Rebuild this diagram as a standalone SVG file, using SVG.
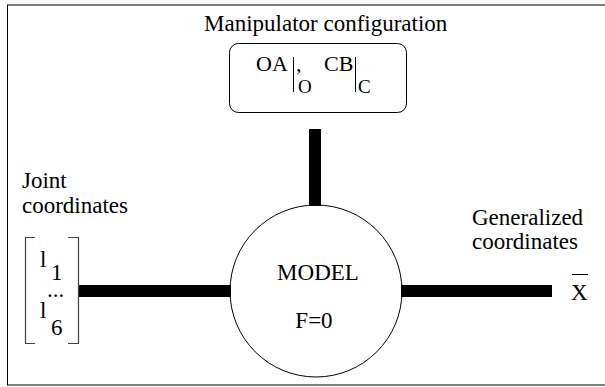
<svg xmlns="http://www.w3.org/2000/svg" width="605" height="387" viewBox="0 0 605 387">
<style>
text{font-family:"Liberation Serif","Times New Roman",serif;fill:#000}
.t{font-size:23px}
.m{font-size:22px}
.s{font-size:19px}
.thin{stroke:#000;stroke-width:1;fill:none}
.bar{fill:#000}
.br{stroke:#444;stroke-width:1.2;fill:none}
</style>
<rect x="7.5" y="5" width="620" height="380" fill="#fff" stroke="#000" stroke-width="1"/>
<g id="connectors">
<rect class="bar" x="309" y="129" width="12" height="77"/>
<rect class="bar" x="79" y="285" width="152" height="12"/>
<rect class="bar" x="401" y="285" width="151" height="12"/>
</g>
<g id="manipulator" font-family="Liberation Serif, serif">
<text class="t" x="204" y="31">Manipulator configuration</text>
<rect x="229.5" y="43.5" width="177" height="69" rx="9" class="thin"/>
<text class="m" x="256" y="71">OA</text>
<line x1="293.5" y1="57" x2="293.5" y2="92" class="thin"/>
<text class="m" x="296" y="71">,</text>
<text class="m" x="324" y="71">CB</text>
<line x1="355.5" y1="57" x2="355.5" y2="92" class="thin"/>
<text class="s" x="298" y="93">O</text>
<text class="s" x="358" y="93">C</text>
</g>
<g id="joint" font-family="Liberation Serif, serif">
<text class="t" x="22" y="188">Joint</text>
<text class="t" x="22" y="213">coordinates</text>
<path class="br" d="M35,237.5 H25.5 V343.5 H35"/>
<path class="br" d="M68,237.5 H78.5 V343.5 H68"/>
<text class="t" x="40" y="267">l</text>
<text class="t" x="51" y="280">1</text>
<text class="t" x="47" y="297">...</text>
<text class="t" x="40" y="318">l</text>
<text class="t" x="51" y="335">6</text>
</g>
<g id="model" font-family="Liberation Serif, serif">
<circle cx="316" cy="291" r="86" class="thin" fill="#fff"/>
<text class="t" x="318" y="280" text-anchor="middle">MODEL</text>
<text class="t" x="314" y="328" text-anchor="middle">F=0</text>
</g>
<g id="generalized" font-family="Liberation Serif, serif">
<text class="t" x="472" y="225">Generalized</text>
<text class="t" x="472" y="249">coordinates</text>
<line x1="572" y1="274.5" x2="588" y2="274.5" class="thin"/>
<text class="t" x="571" y="300">X</text>
</g>
</svg>
